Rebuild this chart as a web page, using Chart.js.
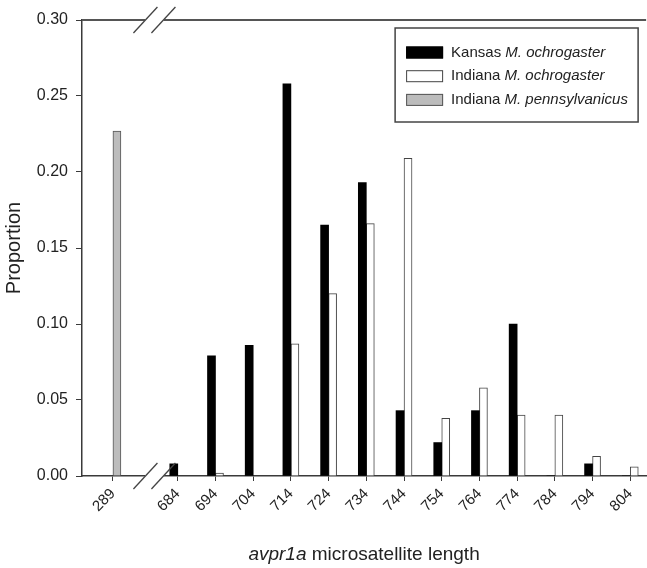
<!DOCTYPE html>
<html>
<head>
<meta charset="utf-8">
<script src="https://cdn.jsdelivr.net/npm/chart.js@4.4.1/dist/chart.umd.min.js"></script>
<style>
    html, body { margin: 0; padding: 0; background: #fff; }
    #wrap { width: 647px; height: 568px; }
</style>
</head>
<body>
<div id="wrap"><canvas id="chart_avpr1a" width="647" height="568"></canvas></div>
<script>
// allele lengths on the x axis
var categories = ['289', '684', '694', '704', '714', '724', '734', '744', '754', '764', '774', '784', '794', '804'];
// proportions per allele
var kansasOchrogaster = [null, 0.008, 0.079, 0.086, 0.258, 0.165, 0.193, 0.043, 0.022, 0.043, 0.100, 0, 0.008, 0];
var indianaOchrogaster = [null, 0, 0.002, 0, 0.087, 0.120, 0.166, 0.209, 0.038, 0.058, 0.040, 0.040, 0.013, 0.006];
var indianaPennsylvanicus = [0.227, null, null, null, null, null, null, null, null, null, null, null, null, null];
var seriesRegion = ['Kansas', 'Indiana', 'Indiana'];
var seriesSpecies = ['M. ochrogaster', 'M. ochrogaster', 'M. pennsylvanicus'];
var yTicks = [0, 0.05, 0.10, 0.15, 0.20, 0.25, 0.30];

var FONT = '"Liberation Sans", Arial, Helvetica, sans-serif';
var AXIS_COLOR = '#3a3a3a';

// axis break: 289 sits a bit closer than one full step would put it
var breakStep = 1.72;
var positions = categories.map(function (c, i) {
    return i === 0 ? -breakStep : i - 1;
});

var toPoints = function (values) {
    return values.map(function (v, i) {
        return { x: positions[i], y: v };
    });
};

// top frame line, axis break marks and the mixed-style titles/legend
var decorations = {
    id: 'decorations',
    afterDraw: function (chart) {
        var ctx = chart.ctx;
        var area = chart.chartArea;
        var xs = chart.scales.x;
        var cx = xs.getPixelForValue(-breakStep * 0.36);
        var slashes = [cx - 9, cx + 9];

        ctx.save();
        // top line
        ctx.strokeStyle = '#555';
        ctx.lineWidth = 2;
        ctx.beginPath();
        ctx.moveTo(area.left, area.top);
        ctx.lineTo(area.right, area.top);
        ctx.stroke();

        // break marks on top and bottom lines
        [area.top, area.bottom].forEach(function (y) {
            ctx.fillStyle = '#fff';
            ctx.beginPath();
            ctx.moveTo(slashes[0] - 2, y + 3);
            ctx.lineTo(slashes[0] + 1, y - 3);
            ctx.lineTo(slashes[1] + 2, y - 3);
            ctx.lineTo(slashes[1] - 1, y + 3);
            ctx.closePath();
            ctx.fill();
            ctx.strokeStyle = '#444';
            ctx.lineWidth = 1.3;
            slashes.forEach(function (sx) {
                ctx.beginPath();
                ctx.moveTo(sx - 12, y + 13);
                ctx.lineTo(sx + 12, y - 13);
                ctx.stroke();
            });
        });

        // legend
        var boxRight = area.right - 8;
        var boxLeft = boxRight - 243;
        var boxTop = area.top + 8;
        ctx.strokeStyle = '#444';
        ctx.lineWidth = 1.5;
        ctx.strokeRect(boxLeft, boxTop, boxRight - boxLeft, 94);
        ctx.textBaseline = 'middle';
        ctx.textAlign = 'left';
        chart.data.datasets.forEach(function (ds, i) {
            var rowY = boxTop + 24.5 + i * 23.7;
            ctx.fillStyle = ds.backgroundColor;
            ctx.fillRect(boxLeft + 11, rowY - 6, 37, 12);
            ctx.strokeStyle = ds.borderColor;
            ctx.lineWidth = 1;
            ctx.strokeRect(boxLeft + 11.5, rowY - 5.5, 36, 11);
            ctx.fillStyle = '#222';
            ctx.font = '15px ' + FONT;
            var lead = seriesRegion[i] + ' ';
            ctx.fillText(lead, boxLeft + 56, rowY);
            var w = ctx.measureText(lead).width;
            ctx.font = 'italic 15px ' + FONT;
            ctx.fillText(seriesSpecies[i], boxLeft + 56 + w, rowY);
        });

        // x title: italic gene name + plain text
        ctx.fillStyle = '#222';
        ctx.font = 'italic 19px ' + FONT;
        var gene = 'avpr1a';
        var gw = ctx.measureText(gene).width;
        ctx.font = '19px ' + FONT;
        var rest = ' microsatellite length';
        var rw = ctx.measureText(rest).width;
        var tx = (area.left + area.right) / 2 - (gw + rw) / 2;
        ctx.font = 'italic 19px ' + FONT;
        ctx.fillText(gene, tx, 555);
        ctx.font = '19px ' + FONT;
        ctx.fillText(rest, tx + gw, 555);

        // y title
        ctx.translate(14, (area.top + area.bottom) / 2);
        ctx.rotate(-Math.PI / 2);
        ctx.textAlign = 'center';
        ctx.font = '20px ' + FONT;
        ctx.fillText('Proportion', 0, 0);
        ctx.restore();
    }
};

new Chart(document.getElementById('chart_avpr1a'), {
    type: 'bar',
    data: {
        datasets: [{
            label: seriesRegion[0] + ' ' + seriesSpecies[0],
            data: toPoints(kansasOchrogaster),
            backgroundColor: '#000',
            borderColor: '#000',
            borderWidth: 0,
            stack: 'left'
        }, {
            label: seriesRegion[1] + ' ' + seriesSpecies[1],
            data: toPoints(indianaOchrogaster),
            backgroundColor: '#fff',
            borderColor: '#444',
            borderWidth: 1,
            stack: 'right'
        }, {
            label: seriesRegion[2] + ' ' + seriesSpecies[2],
            data: toPoints(indianaPennsylvanicus),
            backgroundColor: '#bcbcbc',
            borderColor: '#555',
            borderWidth: 1,
            stack: 'right'
        }]
    },
    options: {
        responsive: false,
        animation: false,
        devicePixelRatio: 1,
        barThickness: 8,
        layout: { padding: { top: 20, left: 0, right: 0, bottom: 0 } },
        plugins: {
            legend: { display: false },
            tooltip: { enabled: false }
        },
        scales: {
            x: {
                type: 'linear',
                min: -2.54,
                max: 12.42,
                offset: false,
                grid: { display: true, drawOnChartArea: false, drawTicks: true, tickLength: 5, color: AXIS_COLOR, offset: false },
                border: { display: true, color: AXIS_COLOR, width: 1.5 },
                afterBuildTicks: function (scale) {
                    scale.ticks = positions.map(function (p) { return { value: p }; });
                },
                afterFit: function (scale) { scale.height = 92; },
                ticks: {
                    autoSkip: false,
                    minRotation: 45,
                    maxRotation: 45,
                    padding: 4,
                    color: '#222',
                    font: { family: FONT, size: 15 },
                    callback: function (value, index) { return categories[index]; }
                }
            },
            y: {
                stacked: false,
                min: 0,
                max: 0.3,
                grid: { display: true, drawOnChartArea: false, drawTicks: true, tickLength: 6, color: AXIS_COLOR },
                border: { display: true, color: AXIS_COLOR, width: 1.5 },
                afterBuildTicks: function (scale) {
                    scale.ticks = yTicks.map(function (v) { return { value: v }; });
                },
                afterFit: function (scale) { scale.width = 82; },
                ticks: {
                    padding: 8,
                    color: '#222',
                    font: { family: FONT, size: 16 },
                    callback: function (value) { return value.toFixed(2); }
                }
            }
        }
    },
    plugins: [decorations]
});
</script>
</body>
</html>
